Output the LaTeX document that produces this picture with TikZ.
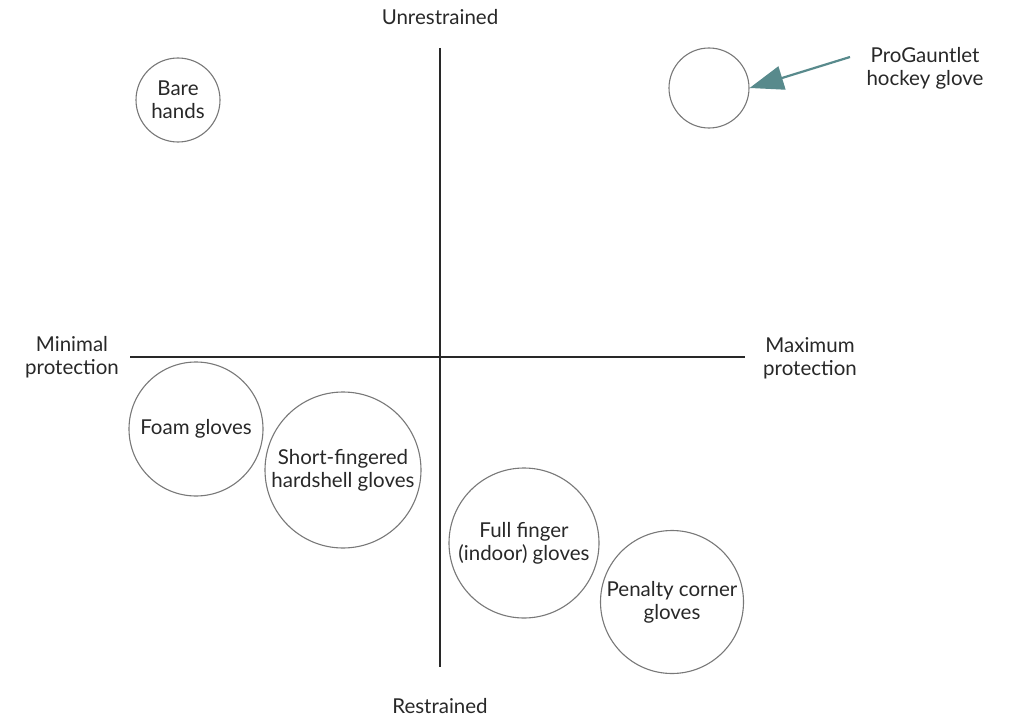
\documentclass[tikz,border=0pt]{standalone}
\usepackage{fontspec}
\setmainfont{Lato}
\usetikzlibrary{arrows.meta}
\definecolor{circ}{RGB}{120,120,120}
\definecolor{axis}{RGB}{40,40,40}
\definecolor{teal}{RGB}{88,138,140}
\definecolor{txt}{RGB}{40,40,40}
\begin{document}
\begin{tikzpicture}[x=1pt,y=-1pt,
  bubble/.style={circle,draw=circ,line width=1.1pt,inner sep=0pt,align=center,text=txt,font=\fontsize{20.5}{23}\selectfont},
  lbl/.style={align=center,text=txt,font=\fontsize{20.5}{23}\selectfont},
  axisline/.style={draw=axis,line width=1.8pt}]
\useasboundingbox (0,0) rectangle (1009,717);
% axes
\coordinate (vt) at (440,48);
\coordinate (vb) at (440,667);
\coordinate (hl) at (130,357);
\coordinate (hr) at (745,357);
\draw[axisline] (vt) -- (vb);
\draw[axisline] (hl) -- (hr);
% axis labels
\node[lbl] (unr) at (440,17) {Unrestrained};
\node[lbl] (res) at (440,706) {Restrained};
\node[lbl] (minp) at (72,357) {Minimal\\protection};
\node[lbl] (maxp) at (810,358) {Maximum\\protection};
% bubbles
\node[bubble,minimum size=84pt] (bare) at (178,100) {Bare\\hands};
\node[bubble,minimum size=80pt] (pro) at (709,88) {};
\node[bubble,minimum size=134pt] (foam) at (196,429) {Foam gloves};
\node[bubble,minimum size=156pt] (short) at (343,470) {Short-fingered\\hardshell gloves};
\node[bubble,minimum size=150pt] (full) at (524,543) {Full finger\\(indoor) gloves};
\node[bubble,minimum size=143pt] (pen) at (672,602) {Penalty corner\\gloves};
% annotation
\node[lbl] (prolbl) at (925,68) {ProGauntlet\\hockey glove};
\coordinate (arrstart) at (850,57);
\draw[teal,line width=2.2pt,-{Triangle[length=34pt,width=24pt]}] (arrstart) -- (pro.east);
\end{tikzpicture}
\end{document}
